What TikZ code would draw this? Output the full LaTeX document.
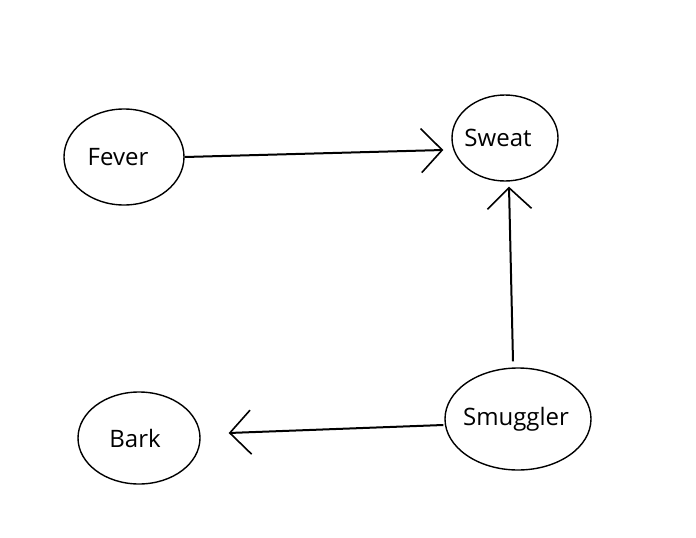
\documentclass[tikz,border=0pt]{standalone}
\usepackage{fontspec}
\setmainfont{Open Sans}
\usetikzlibrary{arrows.meta, positioning, shapes.geometric, calc}

\tikzset{
  cause/.style={draw, ellipse, line width=1.4pt, inner sep=0pt, font=\fontsize{24}{28}\selectfont},
  link/.style={line width=2pt, -{Straight Barb[length=21pt, width=44pt, line width=1.6pt]}}
}
% text set a little off the ellipse centre
\newcommand{\offtext}[2]{\makebox[0pt]{\hspace*{#1}#2}}

\begin{document}
\begin{tikzpicture}[x=1pt, y=-1pt]
    \useasboundingbox (0,0) rectangle (696,538);

    % the four nodes
    \node[cause, minimum width=120pt, minimum height=96pt] (fever) at (124,157) {\offtext{-12pt}{Fever}};
    \node[cause, minimum width=106pt, minimum height=86pt] (sweat) at (505,138) {\offtext{-14pt}{Sweat}};
    \node[cause, minimum width=146pt, minimum height=102pt] (smuggler) at (518,419) {\raisebox{5pt}{\offtext{-4pt}{Smuggler}}};
    \node[cause, minimum width=122pt, minimum height=92pt] (bark) at (139,438) {\offtext{-8pt}{Bark}};

    % arrows
    \draw[link] (fever.east) -- ($(sweat.west)+(-8,12)$);
    \draw[link] ($(smuggler.north)+(-5,-6)$) -- ($(sweat.south)+(4,5)$);
    \draw[link] ($(smuggler.west)+(-1,6)$) -- ($(bark.east)+(28,-5)$);
\end{tikzpicture}
\end{document}
